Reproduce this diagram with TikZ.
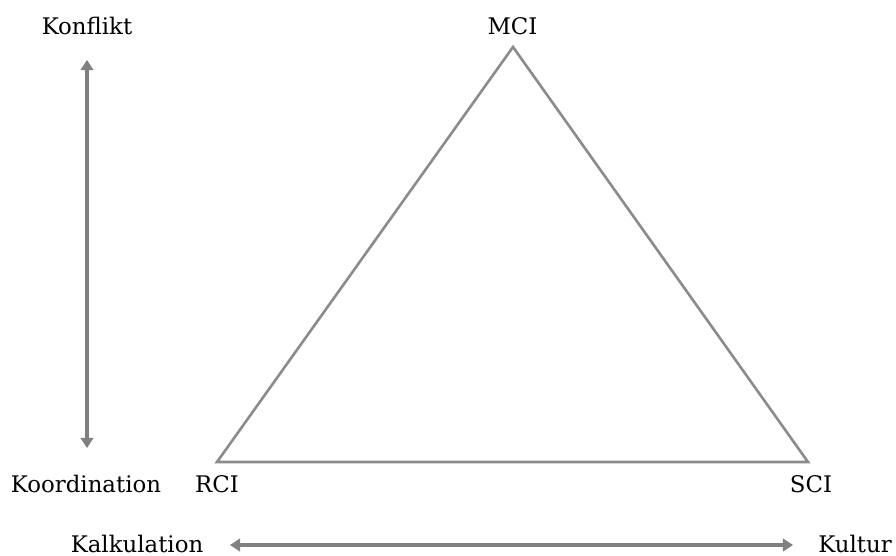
\documentclass[tikz,border=0pt]{standalone}
\usepackage{fontspec}
\setmainfont{DejaVu Serif}
\usepackage{xcolor}
\usetikzlibrary{arrows.meta, positioning}

\begin{document}
\begin{tikzpicture}[
  lbl/.style={font=\fontsize{13pt}{15pt}\selectfont, anchor=base, inner sep=0pt},
  edge/.style={draw=gray!90, line width=1.5pt, line join=miter},
  axis/.style={{Triangle[length=5.8pt, width=7.2pt]}-{Triangle[length=5.8pt, width=7.2pt]}, line width=2.2pt, gray}
]
  \useasboundingbox (0,0) rectangle (17.92,-11.12);

  % corners of the triangle
  \coordinate (mci) at (10.26,-0.94);
  \coordinate (rci) at (4.34,-9.24);
  \coordinate (sci) at (16.16,-9.24);

  \node[lbl] (MCI) at (10.25,-0.70) {MCI};
  \node[lbl] (RCI) at (4.34,-9.84) {RCI};
  \node[lbl] (SCI) at (16.22,-9.84) {SCI};

  \draw[edge] (mci) -- (rci) -- (sci) -- cycle;

  % axes
  \node[lbl] (Konflikt)     at (1.74,-0.70)  {Konflikt};
  \node[lbl] (Koordination) at (1.72,-9.84)  {Koordination};
  \node[lbl] (Kalkulation)  at (2.74,-11.04) {Kalkulation};
  \node[lbl] (Kultur)       at (17.10,-11.04) {Kultur};

  \coordinate (top) at (1.74,-1.20);
  \coordinate (bot) at (1.74,-8.96);
  \coordinate (lft) at (4.60,-10.90);
  \coordinate (rgt) at (15.86,-10.90);

  \draw[axis] (top) -- (bot);
  \draw[axis] (lft) -- (rgt);
\end{tikzpicture}
\end{document}
